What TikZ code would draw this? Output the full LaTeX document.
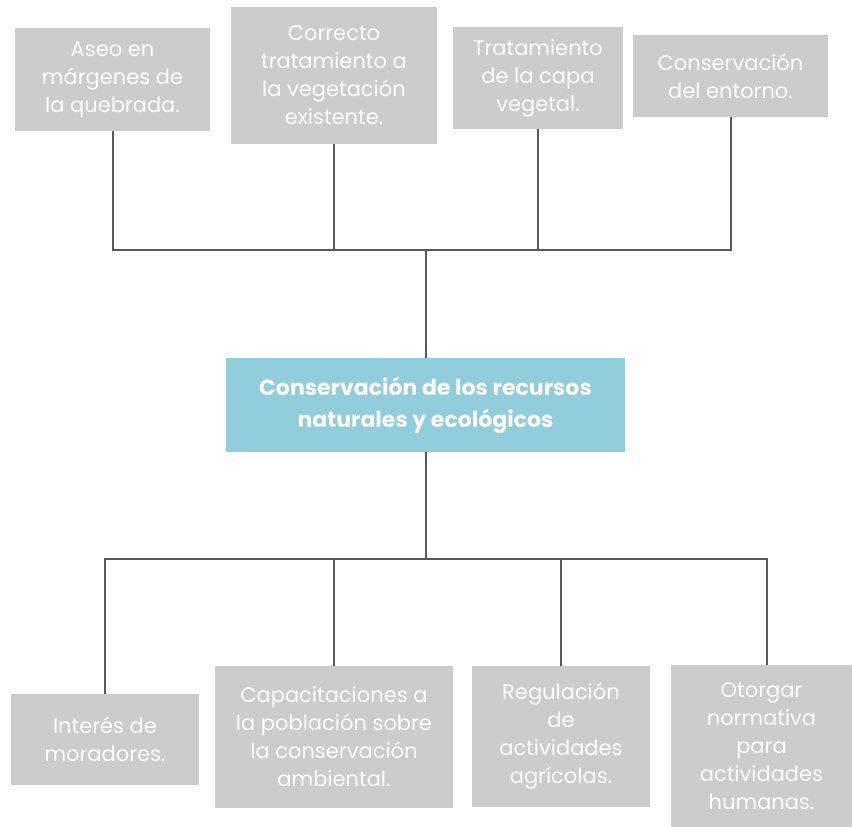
\documentclass[tikz,border=0pt]{standalone}
\usepackage{fontspec}
\setmainfont{Poppins}
\usepackage{xcolor}
\usetikzlibrary{positioning}
\definecolor{boxgray}{HTML}{CCCCCC}
\definecolor{mainblue}{HTML}{92CDDC}
\definecolor{linegray}{HTML}{595959}

\begin{document}
\begin{tikzpicture}[x=1pt, y=-1pt,
  item/.style={fill=boxgray, text=white, align=center, inner sep=0pt,
    font=\fontsize{21}{28}\selectfont},
  central/.style={fill=mainblue, text=white, align=center, inner sep=0pt,
    font=\bfseries\fontsize{22}{32}\selectfont},
  link/.style={draw=linegray, line width=2pt}]
  \useasboundingbox (0,0) rectangle (852,827);
  % Central box
  \node[central, minimum width=399pt, minimum height=94pt] (recursos) at (425.5,405)
    {Conservación de los recursos\\naturales y ecológicos};
  % Top boxes
  \node[item, minimum width=195pt, minimum height=103pt] (aseo) at (112.5,79.5)
    {Aseo en\\márgenes de\\la quebrada.};
  \node[item, minimum width=206pt, minimum height=137pt] (correcto) at (334,75.5)
    {Correcto\\tratamiento a\\la vegetación\\existente.};
  \node[item, minimum width=170pt, minimum height=102pt] (capa) at (538,78)
    {Tratamiento\\de la capa\\vegetal.};
  \node[item, minimum width=195pt, minimum height=82pt] (entorno) at (730.5,76)
    {Conservación\\del entorno.};
  % Bottom boxes
  \node[item, minimum width=188pt, minimum height=91pt] (interes) at (105,739.5)
    {Interés de\\moradores.};
  \node[item, minimum width=238pt, minimum height=142pt] (capacit) at (334,737)
    {Capacitaciones a\\la población sobre\\la conservación\\ambiental.};
  \node[item, minimum width=178pt, minimum height=141pt] (regul) at (561,736.5)
    {Regulación\\de\\actividades\\agrícolas.};
  \node[item, minimum width=181pt, minimum height=162pt] (otorgar) at (761.5,746)
    {Otorgar\\normativa\\para\\actividades\\humanas.};
  % Buses
  \coordinate (topbus) at (425.5,250);
  \coordinate (botbus) at (425.5,559);
  \coordinate (otorgarin) at (767,665);
  % Upper branches
  \draw[link] (recursos.north) -- (topbus);
  \draw[link] (aseo.south) |- (topbus) -| (entorno.south);
  \draw[link] (correcto.south) -- (correcto.south |- topbus);
  \draw[link] (capa.south) -- (capa.south |- topbus);
  % Lower branches
  \draw[link] (recursos.south) -- (botbus);
  \draw[link] (interes.north) |- (botbus) -| (otorgarin);
  \draw[link] (capacit.north) -- (capacit.north |- botbus);
  \draw[link] (regul.north) -- (regul.north |- botbus);
\end{tikzpicture}
\end{document}
